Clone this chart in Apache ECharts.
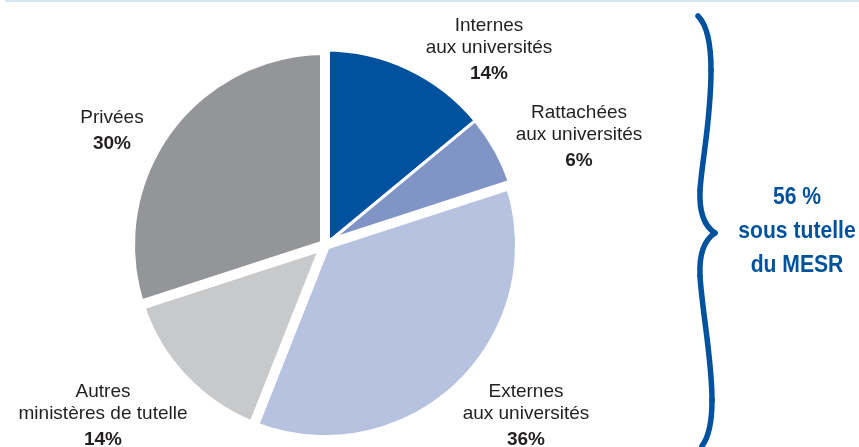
<!DOCTYPE html>
<html>
<head>
<meta charset="utf-8">
<script src="https://cdn.jsdelivr.net/npm/echarts@6/dist/echarts.min.js"></script>
<style>
  html, body { margin: 0; padding: 0; background: #fff; }
  #chart { width: 859px; height: 447px; }
</style>
</head>
<body>
<div id="chart"></div>
<script>
// Répartition des structures (en %)
const categories = [
  'Internes\naux universités',
  'Rattachées\naux universités',
  'Externes\naux universités',
  'Autres\nministères de tutelle',
  'Privées'
];
const shares = [14, 6, 36, 14, 30];
const mesrTotal = 56;

// Styling per slice
const sliceColors = ['#00519e', '#8094c6', '#b7c1e0', '#c8c9cb', '#939598'];
const sliceBorders = [3, 3, 10, 10, 10];
// Label anchors (top-centre of each text block)
const labelAnchors = [
  [489, 15],
  [579, 102],
  [526, 381],
  [103, 381],
  [112, 107]
];

// Curly brace drawn as a chain of cubic segments: [x1,y1,cx1,cy1,cx2,cy2,x2,y2]
const braceSegments = [
  [698, 16, 706, 24, 711, 40, 711, 70],
  [711, 70, 711, 120, 702, 160, 700, 190],
  [700, 190, 699, 212, 704, 226, 715, 233],
  [715, 233, 704, 240, 699, 254, 700, 276],
  [700, 276, 702, 310, 712, 360, 712, 400],
  [712, 400, 712, 425, 708, 438, 702, 446]
];

const FONT = "'Liberation Sans', Arial, sans-serif";

const chart = echarts.init(document.getElementById('chart'), null, { renderer: 'canvas' });

chart.setOption({
  animation: false,
  backgroundColor: '#ffffff',
  series: [{
    type: 'pie',
    center: [325, 245],
    radius: 195,
    startAngle: 90,
    clockwise: true,
    avoidLabelOverlap: false,
    emphasis: { disabled: true },
    data: categories.map((name, i) => ({
      name: name,
      value: shares[i],
      itemStyle: {
        color: sliceColors[i],
        borderColor: '#ffffff',
        borderWidth: sliceBorders[i],
        borderJoin: 'bevel'
      }
    })),
    label: {
      show: true,
      position: 'outside',
      formatter: p => '{n|' + p.name + '}\n{b|' + p.value + '%}',
      rich: {
        n: { fontFamily: FONT, fontSize: 19, lineHeight: 22, color: '#231f20', align: 'center' },
        b: { fontFamily: FONT, fontSize: 19, fontWeight: 'bold', lineHeight: 29, color: '#231f20', align: 'center' }
      }
    },
    labelLine: { show: false },
    labelLayout: p => ({
      x: labelAnchors[p.dataIndex][0],
      y: labelAnchors[p.dataIndex][1],
      align: 'center',
      verticalAlign: 'top'
    })
  }],
  graphic: [
    {
      type: 'line',
      shape: { x1: 5, y1: 1, x2: 859, y2: 1 },
      style: { stroke: '#d8e5f2', lineWidth: 2 },
      silent: true
    }
  ].concat(braceSegments.map(s => ({
    type: 'bezierCurve',
    shape: { x1: s[0], y1: s[1], cpx1: s[2], cpy1: s[3], cpx2: s[4], cpy2: s[5], x2: s[6], y2: s[7] },
    style: { fill: null, stroke: '#00519e', lineWidth: 5.5, lineCap: 'round' },
    silent: true
  }))).concat([
    {
      type: 'text',
      x: 797,
      y: 231,
      scaleX: 0.88,
      style: {
        text: mesrTotal + ' %\nsous tutelle\ndu MESR',
        font: 'bold 24px ' + FONT,
        lineHeight: 34,
        fill: '#00519e',
        align: 'center',
        verticalAlign: 'middle'
      },
      silent: true
    }
  ])
});
</script>
</body>
</html>
